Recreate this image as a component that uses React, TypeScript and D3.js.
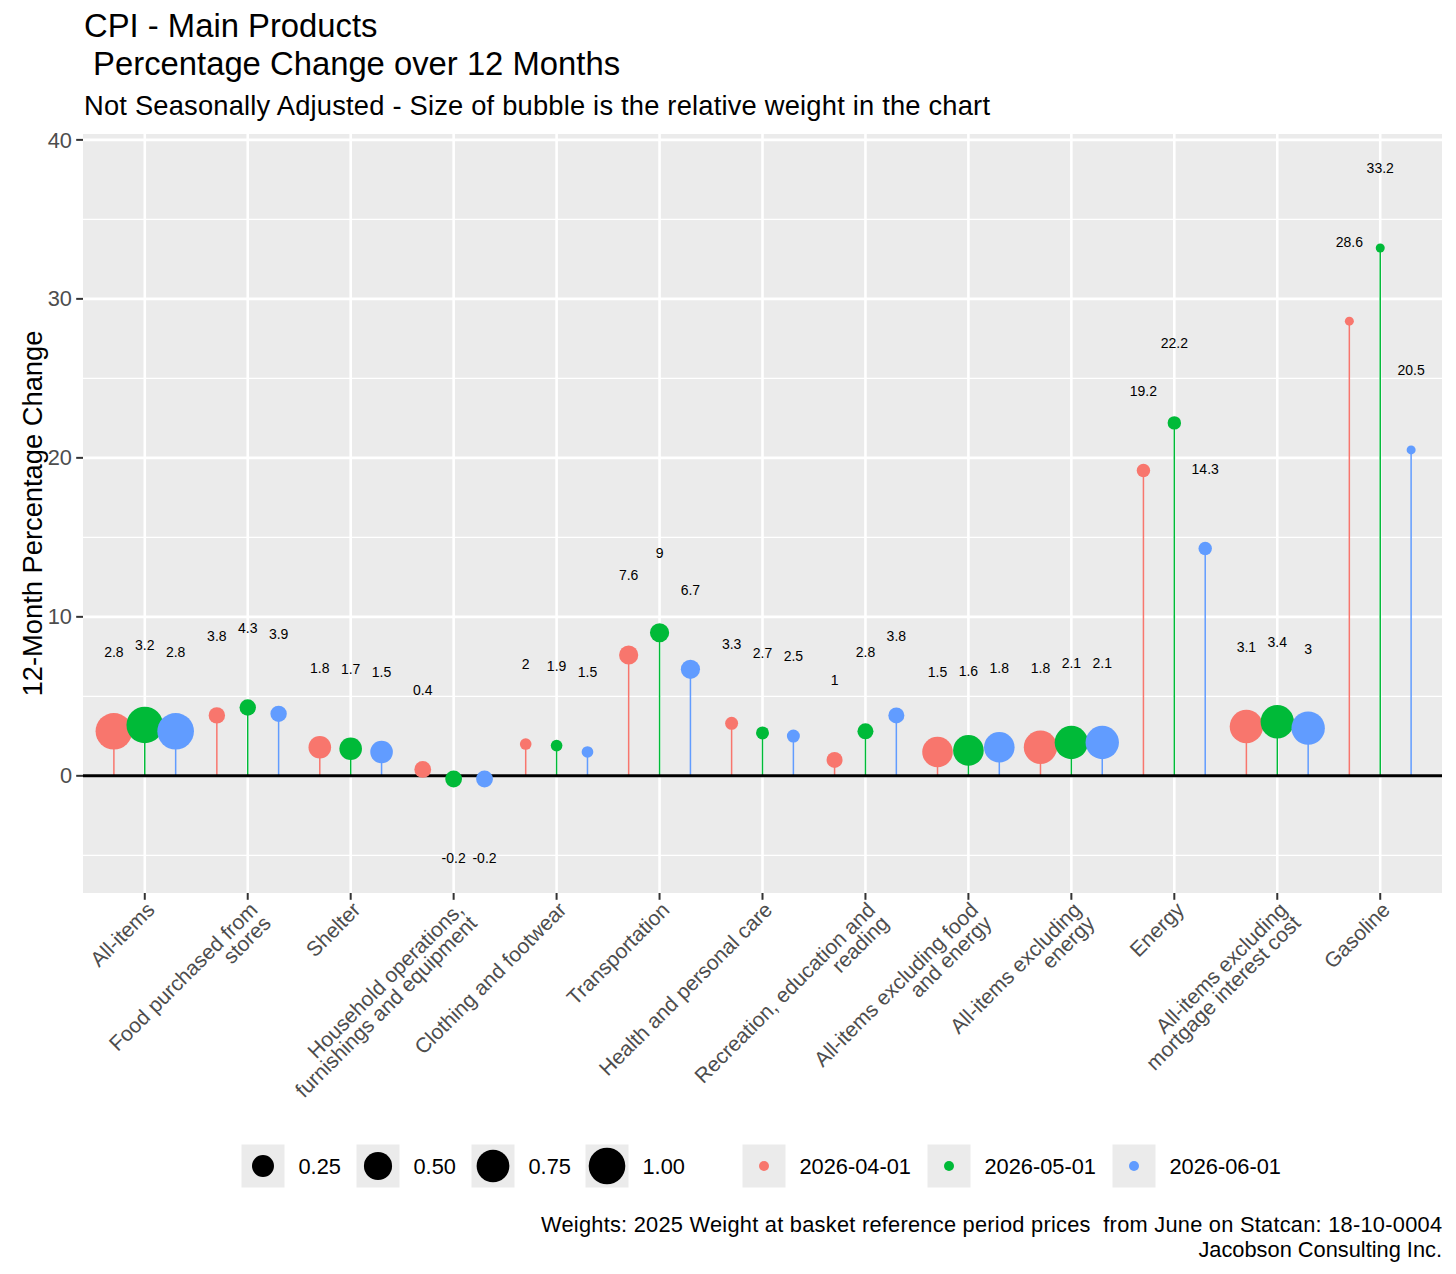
import * as d3 from 'd3';

// categories (x axis), in plot order
const categories = [
  'All-items',
  'Food purchased from stores',
  'Shelter',
  'Household operations, furnishings and equipment',
  'Clothing and footwear',
  'Transportation',
  'Health and personal care',
  'Recreation, education and reading',
  'All-items excluding food and energy',
  'All-items excluding energy',
  'Energy',
  'All-items excluding mortgage interest cost',
  'Gasoline'
];

// tick labels as they are wrapped on the chart
const categoryLines = [
  ['All-items'],
  ['Food purchased from', 'stores'],
  ['Shelter'],
  ['Household operations,', 'furnishings and equipment'],
  ['Clothing and footwear'],
  ['Transportation'],
  ['Health and personal care'],
  ['Recreation, education and', 'reading'],
  ['All-items excluding food', 'and energy'],
  ['All-items excluding', 'energy'],
  ['Energy'],
  ['All-items excluding', 'mortgage interest cost'],
  ['Gasoline']
];

const dates = ['2026-04-01', '2026-05-01', '2026-06-01'];
const colors = ['#F8766D', '#00BA38', '#619CFF'];

// 12-month % change per date
const april = [2.8, 3.8, 1.8, 0.4, 2, 7.6, 3.3, 1, 1.5, 1.8, 19.2, 3.1, 28.6];
const may = [3.2, 4.3, 1.7, -0.2, 1.9, 9, 2.7, 2.8, 1.6, 2.1, 22.2, 3.4, 33.2];
const june = [2.8, 3.9, 1.5, -0.2, 1.5, 6.7, 2.5, 3.8, 1.8, 2.1, 14.3, 3, 20.5];

// relative basket weight (bubble size)
const weights = [1.0, 0.106, 0.271, 0.114, 0.046, 0.169, 0.057, 0.099, 0.627, 0.789, 0.062, 0.789, 0.037];

const sizeBreaks = [0.25, 0.5, 0.75, 1.0];
const yMajor = [0, 10, 20, 30, 40];
const yMinor = [-5, 5, 15, 25, 35];
const labelNudge = 5;

const W = 1456;
const H = 1274;
const FONT = '"Liberation Sans", Arial, Helvetica, sans-serif';
const panel = { left: 83, right: 1442, top: 134, bottom: 893 };

export default function App() {
  const series = [april, may, june];
  const rows = series.flatMap((vals, di) =>
    vals.map((v, ci) => ({
      cat: categories[ci],
      date: dates[di],
      color: colors[di],
      value: v,
      weight: weights[ci],
      labelY: v + (v < 0 ? -labelNudge : labelNudge)
    }))
  );

  const x = d3.scalePoint<string>().domain(categories).range([panel.left, panel.right]).padding(0.6);
  const dodge = d3.scalePoint<string>().domain(dates).range([-0.3 * x.step(), 0.3 * x.step()]);

  const lo = Math.min(0, d3.min(rows, d => d.labelY)!);
  const hi = d3.max(rows, d => d.labelY)!;
  const pad = (hi - lo) * 0.05;
  const y = d3.scaleLinear().domain([lo - pad, hi + pad]).range([panel.bottom, panel.top]);

  // ggplot-style area palette: radius ~ sqrt of rescaled weight
  const sizeT = d3.scaleLinear().domain(d3.extent(weights) as [number, number]).range([0, 1]);
  const rPow = d3.scalePow().exponent(0.5).domain([0, 1]).range([4.5, 18.3]);
  const radius = (w: number) => rPow(sizeT(w));

  const px = (d: { cat: string; date: string }) => x(d.cat)! + dodge(d.date)!;

  const axisFs = 21.8;
  const xLabFs = 21;
  const lineH = xLabFs * 0.9;

  // legend layout
  const legY = 1166;
  const key = 43;
  const sizeKeyX = [263, 378, 493, 607];
  const colorKeyX = [764, 949, 1134];

  return (
    <svg width={W} height={H} style={{ position: 'absolute', left: 0, top: 0, background: '#fff' }} fontFamily={FONT}>
      {/* titles */}
      <text x={84} y={37} fontSize={32.8} fill="#000">CPI - Main Products</text>
      <text x={84} y={75} fontSize={32.8} fill="#000" style={{ whiteSpace: 'pre' }}>{' Percentage Change over 12 Months'}</text>
      <text x={84} y={115} fontSize={27.3} fill="#000" textLength={906} lengthAdjust="spacing">
        Not Seasonally Adjusted - Size of bubble is the relative weight in the chart
      </text>

      {/* panel */}
      <rect x={panel.left} y={panel.top} width={panel.right - panel.left} height={panel.bottom - panel.top} fill="#EBEBEB" />
      {yMinor.map(t => (
        <line key={'mn' + t} x1={panel.left} x2={panel.right} y1={y(t)} y2={y(t)} stroke="#fff" strokeWidth={1.3} />
      ))}
      {yMajor.map(t => (
        <line key={'mj' + t} x1={panel.left} x2={panel.right} y1={y(t)} y2={y(t)} stroke="#fff" strokeWidth={2.6} />
      ))}
      {categories.map(c => (
        <line key={'vg' + c} x1={x(c)} x2={x(c)} y1={panel.top} y2={panel.bottom} stroke="#fff" strokeWidth={2.6} />
      ))}

      {/* stems */}
      {rows.map((d, i) => (
        <line key={'s' + i} x1={px(d)} x2={px(d)} y1={y(0)} y2={y(d.value)} stroke={d.color} strokeWidth={1.5} />
      ))}
      <line x1={panel.left} x2={panel.right} y1={y(0)} y2={y(0)} stroke="#000" strokeWidth={3} />

      {/* bubbles */}
      {rows.map((d, i) => (
        <circle key={'c' + i} cx={px(d)} cy={y(d.value)} r={radius(d.weight)} fill={d.color} />
      ))}

      {/* value labels */}
      {rows.map((d, i) => (
        <text key={'t' + i} x={px(d)} y={y(d.labelY)} dy="0.35em" textAnchor="middle" fontSize={14} fill="#000">
          {String(d.value)}
        </text>
      ))}

      {/* y axis */}
      {yMajor.map(t => (
        <g key={'yt' + t}>
          <line x1={panel.left - 6.8} x2={panel.left} y1={y(t)} y2={y(t)} stroke="#333" strokeWidth={2} />
          <text x={panel.left - 11} y={y(t)} dy="0.35em" textAnchor="end" fontSize={axisFs} fill="#4D4D4D">{t}</text>
        </g>
      ))}
      <text transform={`translate(32,${(panel.top + panel.bottom) / 2}) rotate(-90)`} textAnchor="middle" dy="0.35em" fontSize={27.3} fill="#000">
        12-Month Percentage Change
      </text>

      {/* x axis */}
      {categories.map((c, i) => (
        <g key={'xt' + c}>
          <line x1={x(c)} x2={x(c)} y1={panel.bottom} y2={panel.bottom + 6.8} stroke="#333" strokeWidth={2} />
          <g transform={`translate(${x(c)},${panel.bottom + 7}) rotate(-45)`}>
            <text textAnchor="end" fontSize={xLabFs} fill="#4D4D4D">
              {categoryLines[i].map((ln, j) => (
                <tspan key={j} x={0} y={xLabFs * 0.75 + j * lineH}>{ln}</tspan>
              ))}
            </text>
          </g>
        </g>
      ))}

      {/* size legend */}
      {sizeBreaks.map((b, i) => (
        <g key={'sl' + b}>
          <rect x={sizeKeyX[i] - key / 2} y={legY - key / 2} width={key} height={key} fill="#EBEBEB" />
          <circle cx={sizeKeyX[i]} cy={legY} r={radius(b)} fill="#000" />
          <text x={sizeKeyX[i] + key / 2 + 14} y={legY} dy="0.35em" fontSize={axisFs} fill="#000">{b.toFixed(2)}</text>
        </g>
      ))}

      {/* colour legend */}
      {dates.map((dt, i) => (
        <g key={'cl' + dt}>
          <rect x={colorKeyX[i] - key / 2} y={legY - key / 2} width={key} height={key} fill="#EBEBEB" />
          <circle cx={colorKeyX[i]} cy={legY} r={5} fill={colors[i]} />
          <text x={colorKeyX[i] + key / 2 + 14} y={legY} dy="0.35em" fontSize={axisFs} fill="#000">{dt}</text>
        </g>
      ))}

      {/* caption */}
      <text x={1442} y={1232} textAnchor="end" fontSize={axisFs} fill="#000" style={{ whiteSpace: 'pre' }} textLength={901} lengthAdjust="spacing">
        {'Weights: 2025 Weight at basket reference period prices  from June on Statcan: 18-10-0004'}
      </text>
      <text x={1442} y={1257} textAnchor="end" fontSize={axisFs} fill="#000">Jacobson Consulting Inc.</text>
    </svg>
  );
}
